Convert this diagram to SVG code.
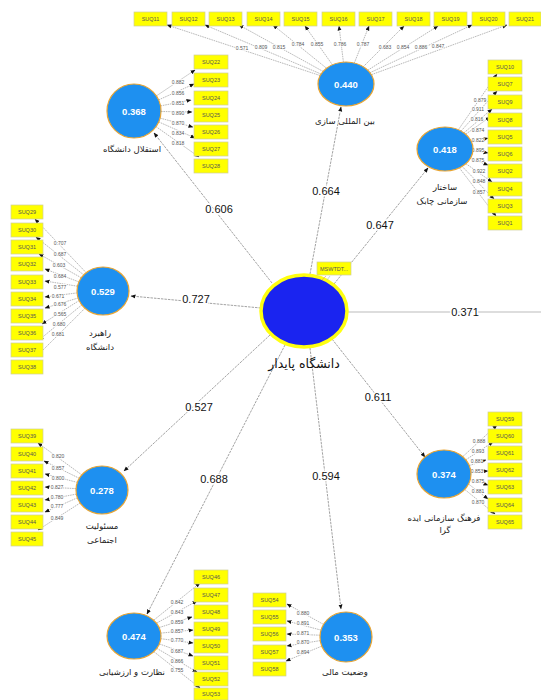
<svg xmlns="http://www.w3.org/2000/svg" width="541" height="700" viewBox="0 0 541 700">
<style>
.bx{fill:#ffff00;stroke:#cfcf9a;stroke-width:0.7}
.bt{font-family:"Liberation Sans",Arial,sans-serif;font-size:5.5px;fill:#555;text-anchor:middle}
.ld{font-family:"Liberation Sans",Arial,sans-serif;font-size:5px;fill:#555;text-anchor:middle;stroke:#fff;stroke-width:1.6;paint-order:stroke}
.ln{stroke:#8a8a8a;stroke-width:0.6;stroke-dasharray:1.6,0.8;fill:none;marker-end:url(#ah)}
.sl{stroke:#8a8a8a;stroke-width:0.8;stroke-dasharray:2.5,1;fill:none;marker-end:url(#ah)}
.pc{font-family:"Liberation Sans",Arial,sans-serif;font-size:11px;fill:#111;text-anchor:middle;stroke:#fff;stroke-width:3;paint-order:stroke}
.lv{fill:#1e90f0;stroke:#e8a534;stroke-width:1.2}
.lvt{font-family:"Liberation Sans",Arial,sans-serif;font-size:9.5px;font-weight:bold;fill:#fff;text-anchor:middle}
.fa{font-family:"DejaVu Sans","Noto Sans",sans-serif;font-size:8.5px;fill:#222;text-anchor:middle}
</style>
<defs>
<marker id="ah" viewBox="0 0 10 10" refX="9" refY="5" markerWidth="5" markerHeight="5" markerUnits="userSpaceOnUse" orient="auto">
<path d="M0,1 L10,5 L0,9 z" fill="#111"/>
</marker>
</defs>
<rect width="541" height="700" fill="#fff"/>

<g id="connectors">
<line class="sl" x1="272" y1="283" x2="154" y2="133"/>
<line class="sl" x1="310" y1="274" x2="341" y2="107"/>
<line class="sl" x1="334" y1="284" x2="428" y2="168"/>
<line class="sl" x1="261" y1="308" x2="131" y2="296"/>
<line x1="348" y1="312" x2="541" y2="312" stroke="#aaa" stroke-width="0.8"/>
<line class="sl" x1="332" y1="339" x2="425" y2="457"/>
<line class="sl" x1="270" y1="335" x2="124" y2="471"/>
<line class="sl" x1="285" y1="345" x2="147" y2="614"/>
<line class="sl" x1="310" y1="348" x2="341" y2="609"/>
<line class="ln" x1="320" y1="75.5" x2="167" y2="25"/>
<line class="ln" x1="321" y1="74" x2="205" y2="25"/>
<line class="ln" x1="323" y1="71.4" x2="239" y2="25"/>
<line class="ln" x1="326.5" y1="68.2" x2="273" y2="25"/>
<line class="ln" x1="332.4" y1="64.8" x2="305" y2="26"/>
<line class="ln" x1="343.4" y1="62.1" x2="339" y2="26"/>
<line class="ln" x1="354.3" y1="63" x2="369" y2="26"/>
<line class="ln" x1="363.3" y1="66.7" x2="404" y2="26"/>
<line class="ln" x1="367.8" y1="70.2" x2="438" y2="26"/>
<line class="ln" x1="370" y1="72.7" x2="472" y2="25"/>
<line class="ln" x1="371.4" y1="74.7" x2="507" y2="25"/>
<line class="ln" x1="156.4" y1="95.9" x2="195" y2="70"/>
<line class="ln" x1="158.6" y1="99.9" x2="194" y2="84"/>
<line class="ln" x1="160.5" y1="105.9" x2="191" y2="100"/>
<line class="ln" x1="161" y1="111.5" x2="192" y2="112"/>
<line class="ln" x1="160.1" y1="118.1" x2="193" y2="127"/>
<line class="ln" x1="158.7" y1="121.9" x2="195" y2="138"/>
<line class="ln" x1="156" y1="126.6" x2="199" y2="157"/>
<line class="ln" x1="458.4" y1="129.7" x2="497" y2="74"/>
<line class="ln" x1="461.1" y1="131" x2="497" y2="91"/>
<line class="ln" x1="464" y1="132.8" x2="492" y2="109"/>
<line class="ln" x1="465.7" y1="134.2" x2="490" y2="117"/>
<line class="ln" x1="471.6" y1="142.2" x2="488" y2="138"/>
<line class="ln" x1="473" y1="150.3" x2="488" y2="153"/>
<line class="ln" x1="470.3" y1="158.4" x2="488" y2="165"/>
<line class="ln" x1="465.9" y1="163.7" x2="492" y2="182"/>
<line class="ln" x1="462.1" y1="166.4" x2="494" y2="199"/>
<line class="ln" x1="459.4" y1="167.9" x2="496" y2="216"/>
<line class="ln" x1="86.2" y1="272.7" x2="35" y2="219"/>
<line class="ln" x1="83.7" y1="274.9" x2="36" y2="237"/>
<line class="ln" x1="81.3" y1="277.8" x2="39" y2="254"/>
<line class="ln" x1="78.9" y1="281.9" x2="45" y2="269"/>
<line class="ln" x1="77.5" y1="286.2" x2="45" y2="281"/>
<line class="ln" x1="77.1" y1="292.9" x2="45" y2="297"/>
<line class="ln" x1="78.1" y1="298" x2="45" y2="308"/>
<line class="ln" x1="79.2" y1="300.5" x2="42" y2="324"/>
<line class="ln" x1="81.8" y1="304.9" x2="39" y2="340"/>
<line class="ln" x1="84.9" y1="308.3" x2="36" y2="357"/>
<line class="ln" x1="81.8" y1="474.9" x2="38" y2="443"/>
<line class="ln" x1="79.3" y1="478.3" x2="44" y2="461"/>
<line class="ln" x1="77.4" y1="482.4" x2="45" y2="474"/>
<line class="ln" x1="76.1" y1="488.6" x2="45" y2="487"/>
<line class="ln" x1="76.4" y1="494.1" x2="45" y2="500"/>
<line class="ln" x1="77.4" y1="497.8" x2="45" y2="512"/>
<line class="ln" x1="80.1" y1="503" x2="38" y2="530"/>
<line class="ln" x1="462.7" y1="456.7" x2="497" y2="425"/>
<line class="ln" x1="465.8" y1="459.8" x2="493" y2="442"/>
<line class="ln" x1="469.2" y1="465.6" x2="486" y2="460"/>
<line class="ln" x1="471" y1="472.2" x2="488" y2="471"/>
<line class="ln" x1="470.3" y1="479.4" x2="488" y2="485"/>
<line class="ln" x1="468.5" y1="484" x2="488" y2="499"/>
<line class="ln" x1="464.7" y1="489.4" x2="495" y2="514"/>
<line class="ln" x1="153.7" y1="620.2" x2="200" y2="583"/>
<line class="ln" x1="156.4" y1="623.2" x2="197" y2="601"/>
<line class="ln" x1="159.1" y1="627.6" x2="192" y2="617"/>
<line class="ln" x1="160.8" y1="633.1" x2="193" y2="630"/>
<line class="ln" x1="160.8" y1="638.7" x2="193" y2="643"/>
<line class="ln" x1="159.3" y1="643.9" x2="193" y2="656"/>
<line class="ln" x1="156.8" y1="648.3" x2="197" y2="672"/>
<line class="ln" x1="153.8" y1="651.6" x2="200" y2="688"/>
<line class="ln" x1="323.6" y1="624.5" x2="287" y2="604"/>
<line class="ln" x1="321" y1="630.1" x2="287" y2="621"/>
<line class="ln" x1="320.1" y1="635.2" x2="287" y2="634"/>
<line class="ln" x1="320.2" y1="640.6" x2="287" y2="646"/>
<line class="ln" x1="321.8" y1="646.1" x2="286" y2="661"/>
<text class="pc" x="219" y="213">0.606</text>
<text class="pc" x="326" y="195">0.664</text>
<text class="pc" x="380" y="229">0.647</text>
<text class="pc" x="196" y="303">0.727</text>
<text class="pc" x="465" y="316">0.371</text>
<text class="pc" x="378" y="401">0.611</text>
<text class="pc" x="199" y="411">0.527</text>
<text class="pc" x="214" y="483">0.688</text>
<text class="pc" x="326" y="480">0.594</text>
<g>
<text class="ld" x="242" y="50">0.571</text>
<text class="ld" x="261" y="49">0.809</text>
<text class="ld" x="279" y="49">0.815</text>
<text class="ld" x="298" y="46">0.784</text>
<text class="ld" x="317" y="46">0.855</text>
<text class="ld" x="340" y="46">0.786</text>
<text class="ld" x="363" y="46">0.787</text>
<text class="ld" x="385" y="49">0.683</text>
<text class="ld" x="403" y="49">0.854</text>
<text class="ld" x="421" y="49">0.886</text>
<text class="ld" x="438" y="48">0.847</text>
<text class="ld" x="178" y="84">0.882</text>
<text class="ld" x="178" y="95">0.856</text>
<text class="ld" x="178" y="105">0.851</text>
<text class="ld" x="178" y="115">0.890</text>
<text class="ld" x="178" y="125">0.870</text>
<text class="ld" x="178" y="135">0.834</text>
<text class="ld" x="178" y="145">0.818</text>
<text class="ld" x="480" y="102">0.879</text>
<text class="ld" x="478" y="111">0.911</text>
<text class="ld" x="477" y="121">0.816</text>
<text class="ld" x="478" y="132">0.874</text>
<text class="ld" x="478" y="142">0.822</text>
<text class="ld" x="478" y="152">0.895</text>
<text class="ld" x="478" y="162">0.875</text>
<text class="ld" x="479" y="173">0.922</text>
<text class="ld" x="479" y="183">0.848</text>
<text class="ld" x="479" y="194">0.857</text>
<text class="ld" x="60" y="245">0.707</text>
<text class="ld" x="60" y="256">0.687</text>
<text class="ld" x="59" y="267">0.603</text>
<text class="ld" x="60" y="278">0.684</text>
<text class="ld" x="60" y="289">0.577</text>
<text class="ld" x="58" y="298">0.671</text>
<text class="ld" x="60" y="306">0.676</text>
<text class="ld" x="60" y="316">0.565</text>
<text class="ld" x="59" y="326">0.680</text>
<text class="ld" x="58" y="336">0.681</text>
<text class="ld" x="58" y="458">0.820</text>
<text class="ld" x="58" y="470">0.857</text>
<text class="ld" x="58" y="480">0.800</text>
<text class="ld" x="57" y="489">0.827</text>
<text class="ld" x="57" y="499">0.780</text>
<text class="ld" x="57" y="508">0.777</text>
<text class="ld" x="57" y="520">0.849</text>
<text class="ld" x="479" y="443">0.888</text>
<text class="ld" x="478" y="453">0.893</text>
<text class="ld" x="477" y="463">0.881</text>
<text class="ld" x="477" y="473">0.853</text>
<text class="ld" x="478" y="483">0.875</text>
<text class="ld" x="478" y="493">0.881</text>
<text class="ld" x="478" y="504">0.870</text>
<text class="ld" x="177" y="604">0.842</text>
<text class="ld" x="177" y="614">0.843</text>
<text class="ld" x="177" y="624">0.859</text>
<text class="ld" x="177" y="633">0.857</text>
<text class="ld" x="177" y="642">0.770</text>
<text class="ld" x="177" y="653">0.687</text>
<text class="ld" x="177" y="663">0.866</text>
<text class="ld" x="177" y="672">0.755</text>
<text class="ld" x="303" y="615">0.880</text>
<text class="ld" x="303" y="625">0.891</text>
<text class="ld" x="303" y="635">0.871</text>
<text class="ld" x="303" y="644">0.870</text>
<text class="ld" x="303" y="654">0.894</text>
</g>
</g>

<g id="n-center">
<ellipse cx="304" cy="311" rx="43" ry="36" fill="#1a24f0" stroke="#ffff10" stroke-width="3.5"/>
<text x="304" y="368" font-family="DejaVu Sans,'Noto Sans',sans-serif" font-size="12.5" fill="#111" text-anchor="middle">دانشگاه پایدار</text>
<rect x="317" y="262" width="34" height="13" fill="#ffff00" stroke="#cfcf9a" stroke-width="0.7"/>
<text class="bt" x="334" y="270.5" font-size="5">MSWTDT...</text>
<line x1="326" y1="276" x2="322" y2="280" stroke="#d88" stroke-width="0.6"/>
<line x1="330" y1="276" x2="327" y2="280" stroke="#9bd" stroke-width="0.6"/>
</g>

<g id="n-0440">
<ellipse class="lv" cx="346" cy="84" rx="28" ry="22"/>
<text class="lvt" x="346" y="87.5">0.440</text>
<text class="fa" x="345" y="124">بین المللی سازی</text>
</g>
<g id="n-0440-items">
<rect class="bx" x="134" y="12" width="33" height="14"/><text class="bt" x="150.5" y="21">SUQ11</text>
<rect class="bx" x="172" y="12" width="33" height="14"/><text class="bt" x="188.5" y="21">SUQ12</text>
<rect class="bx" x="209" y="12" width="33" height="14"/><text class="bt" x="225.5" y="21">SUQ13</text>
<rect class="bx" x="247" y="12" width="33" height="14"/><text class="bt" x="263.5" y="21">SUQ14</text>
<rect class="bx" x="284" y="12" width="33" height="14"/><text class="bt" x="300.5" y="21">SUQ15</text>
<rect class="bx" x="322" y="12" width="33" height="14"/><text class="bt" x="338.5" y="21">SUQ16</text>
<rect class="bx" x="359" y="12" width="33" height="14"/><text class="bt" x="375.5" y="21">SUQ17</text>
<rect class="bx" x="397" y="12" width="33" height="14"/><text class="bt" x="413.5" y="21">SUQ18</text>
<rect class="bx" x="434" y="12" width="33" height="14"/><text class="bt" x="450.5" y="21">SUQ19</text>
<rect class="bx" x="472" y="12" width="33" height="14"/><text class="bt" x="488.5" y="21">SUQ20</text>
<rect class="bx" x="509" y="12" width="32" height="14"/><text class="bt" x="525" y="21">SUQ21</text>
</g>

<g id="n-0368">
<ellipse class="lv" cx="134" cy="111" rx="27" ry="27"/>
<text class="lvt" x="134" y="114.5">0.368</text>
<text class="fa" x="132" y="152">استقلال دانشگاه</text>
<rect class="bx" x="194" y="55" width="34" height="14"/><text class="bt" x="211" y="64">SUQ22</text>
<rect class="bx" x="194" y="73" width="34" height="14"/><text class="bt" x="211" y="82">SUQ23</text>
<rect class="bx" x="194" y="91" width="34" height="14"/><text class="bt" x="211" y="100">SUQ24</text>
<rect class="bx" x="194" y="108" width="34" height="14"/><text class="bt" x="211" y="117">SUQ25</text>
<rect class="bx" x="194" y="125" width="34" height="14"/><text class="bt" x="211" y="134">SUQ26</text>
<rect class="bx" x="194" y="142" width="34" height="14"/><text class="bt" x="211" y="151">SUQ27</text>
<rect class="bx" x="194" y="159" width="34" height="14"/><text class="bt" x="211" y="168">SUQ28</text>
</g>

<g id="n-0418">
<ellipse class="lv" cx="445" cy="149" rx="28" ry="22"/>
<text class="lvt" x="445" y="152.5">0.418</text>
<text class="fa" x="445" y="190">ساختار</text>
<text class="fa" x="442" y="204">سازمانی چابک</text>
<rect class="bx" x="488" y="60" width="34" height="14"/><text class="bt" x="505" y="69">SUQ10</text>
<rect class="bx" x="488" y="77" width="34" height="14"/><text class="bt" x="505" y="86">SUQ7</text>
<rect class="bx" x="488" y="95" width="34" height="14"/><text class="bt" x="505" y="104">SUQ9</text>
<rect class="bx" x="488" y="113" width="34" height="14"/><text class="bt" x="505" y="122">SUQ8</text>
<rect class="bx" x="488" y="130" width="34" height="14"/><text class="bt" x="505" y="139">SUQ5</text>
<rect class="bx" x="488" y="147" width="34" height="14"/><text class="bt" x="505" y="156">SUQ6</text>
<rect class="bx" x="488" y="164" width="34" height="14"/><text class="bt" x="505" y="173">SUQ2</text>
<rect class="bx" x="488" y="182" width="34" height="14"/><text class="bt" x="505" y="191">SUQ4</text>
<rect class="bx" x="488" y="199" width="34" height="14"/><text class="bt" x="505" y="208">SUQ3</text>
<rect class="bx" x="488" y="216" width="34" height="14"/><text class="bt" x="505" y="225">SUQ1</text>
</g>

<g id="n-0529">
<ellipse class="lv" cx="103" cy="291" rx="26" ry="24"/>
<text class="lvt" x="103" y="294.5">0.529</text>
<text class="fa" x="100" y="336">راهبرد</text>
<text class="fa" x="100" y="350">دانشگاه</text>
<rect class="bx" x="11" y="205" width="32" height="14"/><text class="bt" x="27" y="214">SUQ29</text>
<rect class="bx" x="11" y="223" width="32" height="14"/><text class="bt" x="27" y="232">SUQ30</text>
<rect class="bx" x="11" y="240" width="32" height="14"/><text class="bt" x="27" y="249">SUQ31</text>
<rect class="bx" x="11" y="257" width="32" height="14"/><text class="bt" x="27" y="266">SUQ32</text>
<rect class="bx" x="11" y="275" width="32" height="14"/><text class="bt" x="27" y="284">SUQ33</text>
<rect class="bx" x="11" y="292" width="32" height="14"/><text class="bt" x="27" y="301">SUQ34</text>
<rect class="bx" x="11" y="309" width="32" height="14"/><text class="bt" x="27" y="318">SUQ35</text>
<rect class="bx" x="11" y="326" width="32" height="14"/><text class="bt" x="27" y="335">SUQ36</text>
<rect class="bx" x="11" y="343" width="32" height="14"/><text class="bt" x="27" y="352">SUQ37</text>
<rect class="bx" x="11" y="360" width="32" height="14"/><text class="bt" x="27" y="369">SUQ38</text>
</g>

<g id="n-0278">
<ellipse class="lv" cx="102" cy="490" rx="26" ry="24"/>
<text class="lvt" x="102" y="493.5">0.278</text>
<text class="fa" x="102" y="529">مسئولیت</text>
<text class="fa" x="102" y="543">اجتماعی</text>
<rect class="bx" x="11" y="429" width="32" height="14"/><text class="bt" x="27" y="438">SUQ39</text>
<rect class="bx" x="11" y="447" width="32" height="14"/><text class="bt" x="27" y="456">SUQ40</text>
<rect class="bx" x="11" y="464" width="32" height="14"/><text class="bt" x="27" y="473">SUQ41</text>
<rect class="bx" x="11" y="481" width="32" height="14"/><text class="bt" x="27" y="490">SUQ42</text>
<rect class="bx" x="11" y="498" width="32" height="14"/><text class="bt" x="27" y="507">SUQ43</text>
<rect class="bx" x="11" y="515" width="32" height="14"/><text class="bt" x="27" y="524">SUQ44</text>
<rect class="bx" x="11" y="532" width="32" height="14"/><text class="bt" x="27" y="541">SUQ45</text>
</g>

<g id="n-0374">
<ellipse class="lv" cx="444" cy="474" rx="27" ry="24"/>
<text class="lvt" x="444" y="477.5">0.374</text>
<text class="fa" x="444" y="521" font-size="7.5">فرهنگ سازمانی ایده</text>
<text class="fa" x="445" y="533" font-size="7.5">گرا</text>
<rect class="bx" x="488" y="412" width="34" height="14"/><text class="bt" x="505" y="421">SUQ59</text>
<rect class="bx" x="488" y="429" width="34" height="14"/><text class="bt" x="505" y="438">SUQ60</text>
<rect class="bx" x="488" y="446" width="34" height="14"/><text class="bt" x="505" y="455">SUQ61</text>
<rect class="bx" x="488" y="463" width="34" height="14"/><text class="bt" x="505" y="472">SUQ62</text>
<rect class="bx" x="488" y="480" width="34" height="14"/><text class="bt" x="505" y="489">SUQ63</text>
<rect class="bx" x="488" y="498" width="34" height="14"/><text class="bt" x="505" y="507">SUQ64</text>
<rect class="bx" x="488" y="515" width="34" height="14"/><text class="bt" x="505" y="524">SUQ65</text>
</g>

<g id="n-0474">
<ellipse class="lv" cx="134" cy="636" rx="27" ry="23"/>
<text class="lvt" x="134" y="639.5">0.474</text>
<text class="fa" x="132" y="675" font-size="7.5">نظارت و ارزشیابی</text>
<rect class="bx" x="194" y="570" width="34" height="14"/><text class="bt" x="211" y="579">SUQ46</text>
<rect class="bx" x="194" y="588" width="34" height="14"/><text class="bt" x="211" y="597">SUQ47</text>
<rect class="bx" x="194" y="605" width="34" height="14"/><text class="bt" x="211" y="614">SUQ48</text>
<rect class="bx" x="194" y="622" width="34" height="14"/><text class="bt" x="211" y="631">SUQ49</text>
<rect class="bx" x="194" y="639" width="34" height="14"/><text class="bt" x="211" y="648">SUQ50</text>
<rect class="bx" x="194" y="656" width="34" height="14"/><text class="bt" x="211" y="665">SUQ51</text>
<rect class="bx" x="194" y="672" width="34" height="14"/><text class="bt" x="211" y="681">SUQ52</text>
<rect class="bx" x="194" y="688" width="34" height="12"/><text class="bt" x="211" y="696">SUQ53</text>
</g>

<g id="n-0353">
<ellipse class="lv" cx="346" cy="637" rx="26" ry="25"/>
<text class="lvt" x="346" y="640.5">0.353</text>
<text class="fa" x="345" y="675" font-size="8">وضعیت مالی</text>
<rect class="bx" x="253" y="593" width="33" height="14"/><text class="bt" x="269.5" y="602">SUQ54</text>
<rect class="bx" x="253" y="610" width="33" height="14"/><text class="bt" x="269.5" y="619">SUQ55</text>
<rect class="bx" x="253" y="627" width="33" height="14"/><text class="bt" x="269.5" y="636">SUQ56</text>
<rect class="bx" x="253" y="645" width="33" height="14"/><text class="bt" x="269.5" y="654">SUQ57</text>
<rect class="bx" x="253" y="662" width="33" height="14"/><text class="bt" x="269.5" y="671">SUQ58</text>
</g>
</svg>
